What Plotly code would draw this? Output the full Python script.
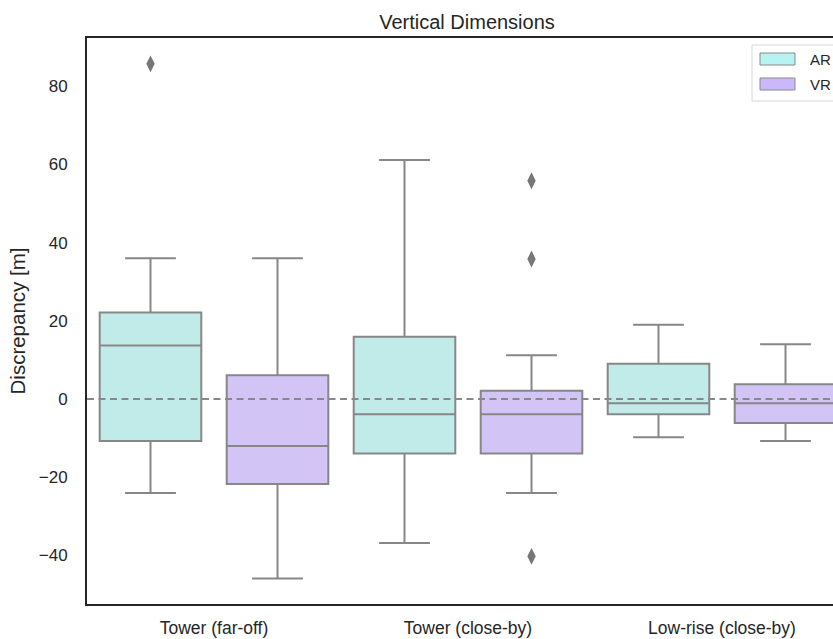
import plotly.graph_objects as go

categories = ["Tower (far-off)", "Tower (close-by)", "Low-rise (close-by)"]
series = ["AR", "VR"]

ar_lower = [-24.0, -36.8, -9.8]
ar_q1 = [-10.7, -13.9, -3.9]
ar_median = [13.7, -3.9, -1.1]
ar_q3 = [22.1, 15.9, 9.0]
ar_upper = [36.0, 61.1, 19.0]
ar_outliers = [[85.7], [], []]

vr_lower = [-45.9, -24.0, -10.7]
vr_q1 = [-21.7, -13.9, -6.1]
vr_median = [-12.0, -3.9, -1.1]
vr_q3 = [6.1, 2.1, 3.8]
vr_upper = [36.0, 11.2, 14.0]
vr_outliers = [[], [55.8, 35.8, -40.2], []]

y_ticks = [-40, -20, 0, 20, 40, 60, 80]

W, H = 833, 639
L, T = 87, 38
B = H - 604
R = 0
pw = W - L - R
ph = H - T - B
px_per_cat = 254.0

box_fill = {"AR": "#c0ebe8", "VR": "#d3c4f6"}
legend_fill = {"AR": "#b5f4f0", "VR": "#cbb8fb"}
line_gray = "#878787"
text_col = "#262626"
font_fam = "Arial, Liberation Sans, sans-serif"

offsets = {"AR": -0.25, "VR": 0.25}
stats = {
    "AR": (ar_lower, ar_q1, ar_median, ar_q3, ar_upper, ar_outliers),
    "VR": (vr_lower, vr_q1, vr_median, vr_q3, vr_upper, vr_outliers),
}

fig = go.Figure()
for s in series:
    lo, q1, med, q3, up, outl = stats[s]
    pos = [i + offsets[s] for i in range(len(categories))]
    fig.add_trace(go.Box(
        x=pos, q1=q1, median=med, q3=q3, lowerfence=lo, upperfence=up,
        width=0.4, whiskerwidth=0.5, boxpoints=False,
        fillcolor=box_fill[s], line=dict(color=line_gray, width=2),
        name=s, showlegend=False, hoverinfo="y",
    ))
    ox, oy = [], []
    for i, vals in enumerate(outl):
        for v in vals:
            ox.append(pos[i])
            oy.append(v)
    fig.add_trace(go.Scatter(
        x=ox, y=oy, mode="markers", showlegend=False, name=s,
        marker=dict(symbol="diamond-tall", size=12, color="#777777",
                    line=dict(width=0)),
    ))

fig.add_hline(y=0, line=dict(color="#888888", width=2, dash="7px,4.5px"))


def px2x(px):
    return (px - L) / pw


def px2y(py):
    return (H - B - py) / ph


# legend drawn as shapes + text (pixel positions)
fig.add_shape(type="rect", xref="paper", yref="paper",
              x0=px2x(752), x1=px2x(850), y0=px2y(101), y1=px2y(45),
              line=dict(color="#d9d9d9", width=1), fillcolor="rgba(255,255,255,0.8)",
              layer="above")
for k, s in enumerate(series):
    cy = 59 + k * 25
    fig.add_shape(type="rect", xref="paper", yref="paper",
                  x0=px2x(760), x1=px2x(795), y0=px2y(cy + 6), y1=px2y(cy - 6),
                  line=dict(color="#8a8a8a", width=1), fillcolor=legend_fill[s],
                  layer="above")
    fig.add_annotation(text=s, xref="paper", yref="paper",
                       x=px2x(808), y=px2y(cy), xanchor="left", yanchor="middle",
                       showarrow=False,
                       font=dict(size=15, color=text_col, family=font_fam))

fig.update_layout(
    width=W, height=H,
    margin=dict(l=L, r=R, t=T, b=B, autoexpand=False),
    paper_bgcolor="white", plot_bgcolor="white",
    title=dict(text="Vertical Dimensions", x=467 / W, xref="container",
               xanchor="center", y=1 - 22 / H, yref="container",
               yanchor="middle",
               font=dict(size=20, color=text_col, family=font_fam)),
    font=dict(family=font_fam, color=text_col, size=17),
    showlegend=False,
)
fig.update_xaxes(
    range=[-0.5, -0.5 + pw / px_per_cat],
    tickvals=list(range(len(categories))), ticktext=categories,
    showgrid=False, zeroline=False,
    showline=True, linecolor="#262626", linewidth=2, mirror=True,
    ticks="", tickfont=dict(size=17.5, color=text_col), ticklabelstandoff=7,
)
fig.update_yaxes(
    range=[-52.4, 92.3], tickvals=y_ticks,
    showgrid=False, zeroline=False,
    showline=True, linecolor="#262626", linewidth=2, mirror=False,
    ticks="", tickfont=dict(size=17, color=text_col), ticklabelstandoff=14,
    title=dict(text="Discrepancy [m]", font=dict(size=20.5, color=text_col),
               standoff=8),
)

fig.write_html(
    "out.html",
    config={"displayModeBar": False},
    post_script="document.body.style.margin='0px';document.body.style.overflow='hidden';",
)
